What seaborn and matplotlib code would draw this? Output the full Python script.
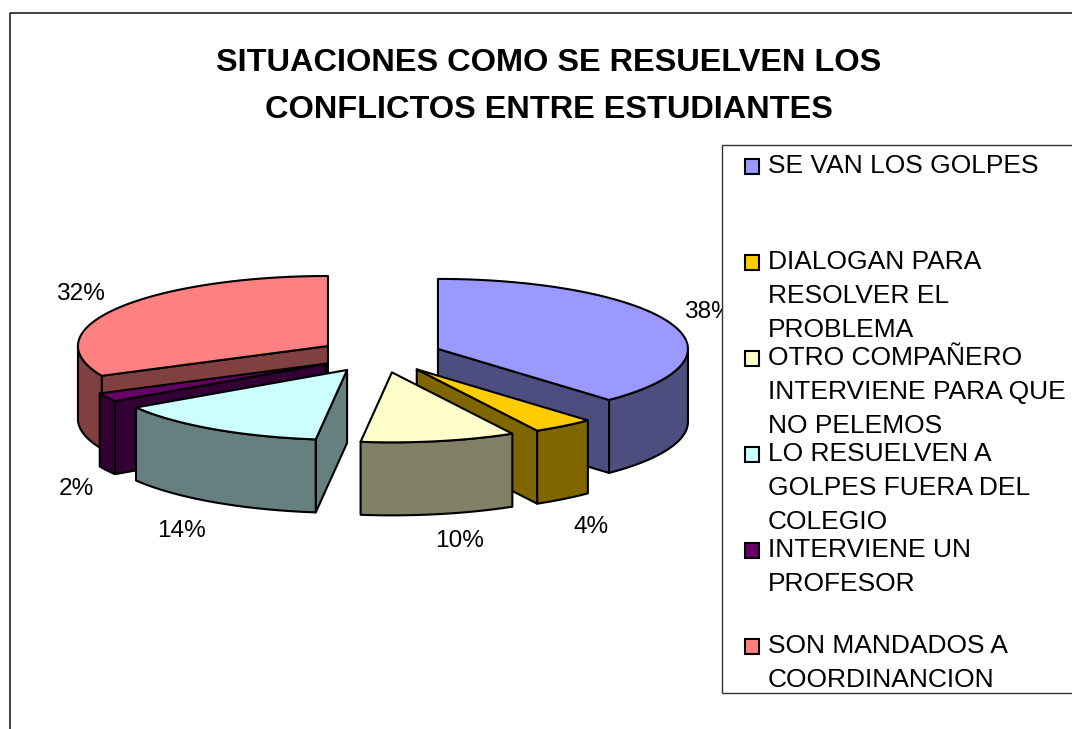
import numpy as np
import matplotlib
matplotlib.use('Agg')
import matplotlib.pyplot as plt
from matplotlib.patches import Rectangle
import seaborn as sns

title_lines = ['SITUACIONES COMO SE RESUELVEN LOS', 'CONFLICTOS ENTRE ESTUDIANTES']
categories = [
    ['SE VAN LOS GOLPES'],
    ['DIALOGAN PARA', 'RESOLVER EL', 'PROBLEMA'],
    ['OTRO COMPAÑERO', 'INTERVIENE PARA QUE', 'NO PELEMOS'],
    ['LO RESUELVEN A', 'GOLPES FUERA DEL', 'COLEGIO'],
    ['INTERVIENE UN', 'PROFESOR'],
    ['SON MANDADOS A', 'COORDINANCION'],
]
values = [38, 4, 10, 14, 2, 32]
slice_colors = ['#9999FF', '#FFCC00', '#FFFFCC', '#CCFFFF', '#660066', '#FF8080']

# pie layout, in pixels of the figure
CX, CY = 380.3, 355.3
RX, RY = 250.0, 70.0
DEPTH = 73.0
EXPLODE = 0.248
# small shifts of the percent labels away from their computed spot
LABEL_NUDGE = [(-5, 0), (0, 3), (12, -4), (-7, 3), (10, 4), (2, 2)]


def rim(cx, cy, angles):
    rad = np.radians(angles)
    return cx + RX * np.cos(rad), cy - RY * np.sin(rad)


def face(ax, xs, ys, color, z):
    ax.fill(xs, ys, facecolor=color, edgecolor='black', linewidth=1.5, joinstyle='round', zorder=z)


def wall(ax, cx, cy, angle, color, z):
    x, y = rim(cx, cy, angle)
    face(ax, [cx, x, x, cx], [cy, y, y + DEPTH, cy + DEPTH], color, z)


def draw_pie(ax):
    palette = sns.color_palette(slice_colors)
    ends = 90 - np.cumsum(values) * 3.6
    starts = ends + np.array(values) * 3.6
    mids = (starts + ends) / 2
    order = np.argsort(-np.sin(np.radians(mids)))
    for z, i in enumerate(order):
        t1, t2, mid = starts[i], ends[i], mids[i]
        top = palette[i]
        side = tuple(c * 0.5 for c in top)
        cx, cy = rim(CX, CY, mid)
        cx = CX + (cx - CX) * EXPLODE
        cy = CY + (cy - CY) * EXPLODE
        base = 10 + z * 5
        # cut faces that look towards the viewer
        if np.sin(np.radians(t1 + 90)) < -1e-6:
            wall(ax, cx, cy, t1, side, base)
        if np.sin(np.radians(t2 - 90)) < -1e-6:
            wall(ax, cx, cy, t2, side, base)
        # outer wall, front half only
        hi, lo = min(t1, 0), max(t2, -180)
        if hi > lo:
            x, y = rim(cx, cy, np.linspace(hi, lo, 60))
            face(ax, np.r_[x, x[::-1]], np.r_[y, y[::-1] + DEPTH], side, base + 1)
        x, y = rim(cx, cy, np.linspace(t1, t2, 120))
        face(ax, np.r_[cx, x], np.r_[cy, y], top, base + 2)
        # percent label outside the slice
        s = np.sin(np.radians(mid))
        lx = cx + (RX + 46) * np.cos(np.radians(mid)) + LABEL_NUDGE[i][0]
        ly = cy - (RY + 31) * s + (DEPTH if s < 0 else 0) + LABEL_NUDGE[i][1]
        ax.text(lx, ly, '%d%%' % values[i], ha='center', va='center', fontsize=17.6, color='black', zorder=50)


def draw_legend(ax):
    ax.add_patch(Rectangle((722, 145), 420, 548, facecolor='white', edgecolor='#333333', linewidth=1.0, zorder=60))
    for i, lines in enumerate(categories):
        baseline = 173 + 96 * i
        ax.add_patch(Rectangle((744.5, baseline - 14), 14.5, 15, facecolor=slice_colors[i],
                               edgecolor='black', linewidth=1.5, zorder=61))
        for j, line in enumerate(lines):
            ax.text(768, baseline + 34 * j, line, ha='left', va='baseline', fontsize=19,
                    color='black', zorder=61)


sns.set_theme(style='white')
plt.rcParams['font.family'] = ['Liberation Sans', 'DejaVu Sans']

fig = plt.figure(figsize=(10.72, 7.29), dpi=100)
ax = fig.add_axes([0, 0, 1, 1])
ax.set_xlim(0, 1072)
ax.set_ylim(729, 0)
ax.axis('off')

# chart frame, cut off by the picture edge
ax.plot([10, 10, 1072], [729, 13, 13], color='#111111', linewidth=1.1, zorder=1)

for k, line in enumerate(title_lines):
    ax.text(548.5, 71 + 47 * k, line, ha='center', va='baseline', fontsize=23.4, fontweight='bold',
            color='black', zorder=70)

draw_pie(ax)
draw_legend(ax)

fig.savefig('out.png', dpi=100)
plt.close(fig)
